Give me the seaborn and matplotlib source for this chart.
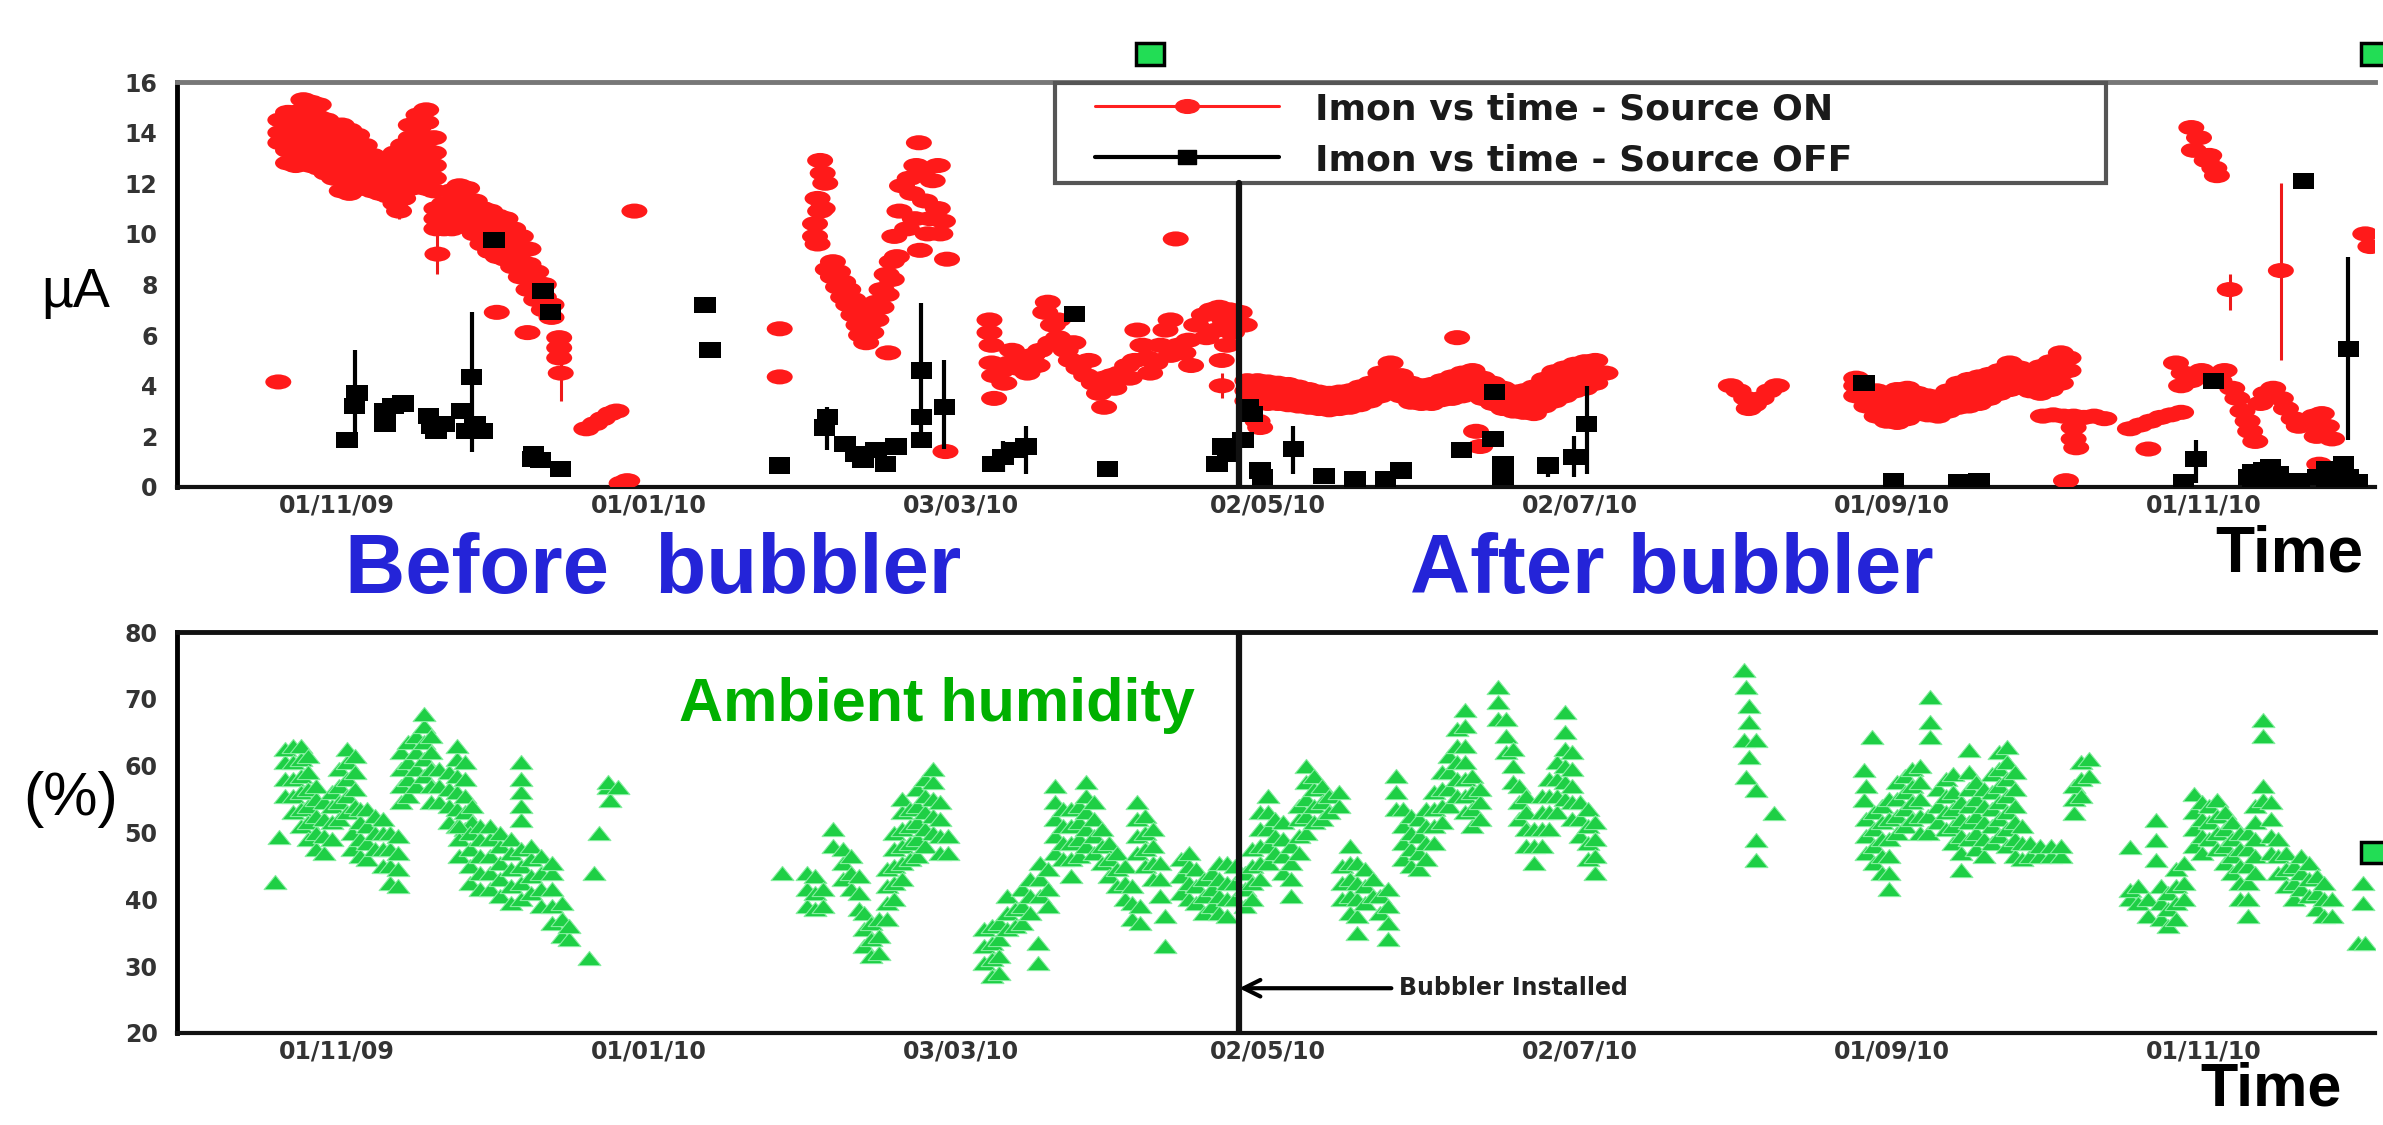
"""
plot.py - Imon vs time (source ON / OFF) and ambient humidity, before/after bubbler.
"""
import numpy as np
import pandas as pd
import matplotlib
matplotlib.use("Agg")
import matplotlib.pyplot as plt
import matplotlib.dates as mdates
from matplotlib.path import Path
from matplotlib.lines import Line2D
from matplotlib.patches import Rectangle
from matplotlib.ticker import FixedLocator, MultipleLocator
import seaborn as sns

START = pd.Timestamp("2009-11-01")
BUBBLER_DAY = 176.4

# (days since 01/11/09, [readings]) -- Imon, source ON
on_cols = [
    (-11.4, [4.15]), (-11, [13.6, 14.0, 14.5]), (-9.5, [12.8, 13.3, 13.8, 14.3, 14.8]),
    (-8, [12.7, 13.2, 13.7, 14.2, 14.8]), (-6.5, [12.9, 13.4, 13.9, 14.4, 14.9, 15.3]),
    (-5, [12.7, 13.2, 13.7, 14.2, 14.7, 15.2]), (-3.5, [12.6, 13.1, 13.6, 14.1, 14.6, 15.1]),
    (-2, [12.4, 12.9, 13.4, 13.9, 14.5]), (-0.5, [12.2, 12.7, 13.2, 13.7, 14.3]),
    (1, [11.7, 12.2, 12.7, 13.2, 13.8, 14.3]), (2.5, [11.6, 12.1, 12.6, 13.1, 13.6, 14.1]),
    (4, [11.8, 12.3, 12.8, 13.3, 13.9]), (5.5, [11.8, 12.3, 12.8, 13.5]),
    (7, [11.7, 12.2, 12.7, 13.1]), (8.5, [11.6, 12.1, 12.6]), (10, [11.5, 12.0, 12.5, 12.8]),
    (11.5, [11.2, 11.7, 12.2, 12.7, 13.2]), (12.2, [10.9]), (13, [11.4, 11.9, 12.4, 12.9, 13.5]),
    (14.5, [11.8, 12.3, 12.8, 13.3, 13.8, 14.3]), (16, [12.2, 12.7, 13.2, 13.7, 14.2, 14.7]),
    (17.5, [11.8, 12.3, 12.8, 13.3, 13.8, 14.4, 14.9]), (19, [11.7, 12.2, 12.7, 13.2, 13.8]),
    (19.7, [9.2]), (19.5, [10.2, 10.6, 11.0]), (21, [10.2, 10.7, 11.2]),
    (22.5, [10.2, 10.7, 11.2, 11.7]), (24, [10.3, 10.8, 11.3, 11.9]), (25.5, [10.3, 10.8, 11.3, 11.8]),
    (27, [10.0, 10.5, 11.0, 11.3]), (28.5, [9.6, 10.1, 10.6, 11.0]), (30, [9.3, 9.8, 10.3, 10.9]),
    (31.3, [6.9]), (31.5, [9.1, 9.6, 10.1, 10.7]), (33, [9.0, 9.5, 10.0, 10.6]),
    (34.5, [8.7, 9.2, 9.7, 10.2]), (36, [8.3, 8.8, 9.3, 9.9]), (37.3, [6.1]),
    (37.5, [7.8, 8.3, 8.8, 9.4]), (39, [7.4, 7.9, 8.5]), (40.5, [7.0, 7.5, 8.0]), (42, [6.7, 7.2]),
    (43.5, [5.1, 5.5, 5.9]), (43.8, [4.5]), (48.8, [2.3]), (50.5, [2.5]), (52, [2.7]),
    (53.5, [2.9]), (54.7, [3.0]), (55.7, [0.15]), (56.8, [0.25]), (58.2, [10.9]), (86.6, [4.35, 6.25]),
    (93.5, [9.9, 10.4]), (94, [9.6, 11.4]), (94.5, [10.9, 12.9]), (95, [12.4, 11.0]), (95.5, [12.0]),
    (96, [8.6]), (97, [8.3, 8.9]), (98, [7.9, 8.5]), (99, [7.5, 8.1]), (100, [7.2, 7.8]),
    (101, [6.8, 7.4]), (102, [6.4, 7.0]), (102.5, [6.0]), (103.5, [5.7, 6.3]), (104.5, [6.1, 6.7]),
    (105.5, [6.6, 7.3]), (106.5, [7.1, 7.8]), (107.5, [7.6, 8.4]), (107.8, [5.3]), (108.5, [8.2, 8.9]),
    (109, [9.9]), (109.5, [9.1]), (110, [10.9]), (110.5, [11.9]), (111.5, [10.2]), (112, [12.2]),
    (112.5, [11.6]), (113, [10.6]), (113.3, [12.7]), (113.8, [13.6]), (114, [9.35]), (114.5, [12.4]),
    (115, [11.3]), (115.5, [10.0]), (116, [10.6]), (116.5, [12.1]), (117.5, [11.0, 12.7]),
    (118, [10.0]), (118.5, [10.5]), (119, [1.4]), (119.3, [9.0]),
    (127.6, [6.1, 6.6]), (128, [4.9, 5.6]), (128.5, [3.5, 4.4]), (130, [4.6]), (130.5, [4.1]),
    (131.5, [4.9]), (132, [5.4]), (133, [4.7]), (134.5, [5.0]), (135, [4.5]), (136, [5.2]),
    (137, [4.8]), (137.5, [5.4]), (138.5, [6.9]), (139, [7.3]), (139.5, [5.7]), (140, [6.4]),
    (141, [5.9, 6.6]), (142.5, [5.4]), (143.5, [5.0]), (144, [5.7]), (145, [4.7]), (146.5, [4.4]),
    (147, [5.0]), (148, [4.1]), (149, [3.7]), (150, [3.15, 4.3]), (151.5, [4.4]), (152, [3.9]),
    (153, [4.5]), (154.5, [4.8]), (155, [4.3]), (156, [5.0]), (156.5, [6.2]), (157.5, [5.6]),
    (158.5, [5.1]), (159, [4.5]), (160, [4.9]), (161, [5.6]), (162, [6.2]), (163, [5.2, 6.6]),
    (164, [9.8]), (164.5, [5.6]), (165.5, [5.3]), (166.5, [5.8]), (167, [4.8]), (168, [6.4]),
    (169.5, [6.8]), (170, [5.9]), (171, [7.0]), (172, [6.2]), (172.5, [7.1]), (173, [4.0, 5.0]),
    (173.5, [6.6]), (174, [5.6]), (174.5, [7.0]), (175, [6.1]), (176.5, [6.9]), (177.5, [6.4]),
    (178, [3.4, 3.8, 4.2]), (180, [3.35, 3.75, 4.2, 2.6]), (180.5, [2.35]), (182, [3.3, 3.7, 4.15]),
    (184, [3.3, 3.7, 4.1]), (186, [3.25, 3.65, 4.05]), (188, [3.2, 3.6, 3.95]),
    (190, [3.15, 3.5, 3.85]), (192, [3.1, 3.45, 3.75]), (194, [3.05, 3.4, 3.7]),
    (196, [3.1, 3.45, 3.75]), (198, [3.15, 3.5, 3.8]), (200, [3.25, 3.6, 3.95]),
    (202, [3.4, 3.75, 4.1]), (204, [3.6, 4.0, 4.5]), (206, [3.8, 4.3, 4.9]), (208, [3.6, 4.0, 4.4]),
    (210, [3.35, 3.7, 4.1]), (212, [3.3, 3.65, 4.0]), (214, [3.3, 3.7, 4.05]),
    (216, [3.45, 3.85, 4.2]), (218, [3.5, 3.9, 4.35]), (219, [5.9]), (220, [3.6, 4.05, 4.5]),
    (222, [3.7, 4.15, 4.6]), (222.7, [2.2]), (223.5, [1.6]), (224, [3.5, 3.9, 4.3]),
    (226, [3.3, 3.7, 4.1]), (228, [3.1, 3.5, 3.9]), (230, [3.0, 3.4, 3.75]), (232, [2.95, 3.35, 3.8]),
    (234, [2.9, 3.4, 3.95]), (236, [3.2, 3.7, 4.25]), (238, [3.4, 3.9, 4.55]), (240, [3.6, 4.1, 4.7]),
    (242, [3.8, 4.3, 4.85]), (244, [3.9, 4.4, 4.95]), (246, [4.1, 4.5, 5.0]), (248, [4.5]),
    (272.5, [4.0]), (274, [3.8]), (275.5, [3.5]), (276, [3.1]), (277, [3.25]), (278.5, [3.5]),
    (280, [3.8]), (281.5, [4.0]),
    (297, [3.6, 4.0, 4.3]), (299, [3.2, 3.55, 3.85]), (301, [2.8, 3.2, 3.6, 3.8]),
    (303, [2.6, 3.0, 3.4, 3.7]), (305, [2.55, 2.95, 3.4, 3.85]), (307, [2.7, 3.1, 3.5, 3.9]),
    (309, [2.9, 3.3, 3.7]), (311, [2.85, 3.2, 3.6]), (313, [2.8, 3.2, 3.55]), (315, [3.0, 3.4, 3.8]),
    (317, [3.15, 3.6, 4.1]), (319, [3.2, 3.7, 4.25]), (321, [3.3, 3.8, 4.35]), (323, [3.5, 4.0, 4.45]),
    (325, [3.7, 4.15, 4.6]), (327, [3.85, 4.35, 4.9]), (329, [3.95, 4.3, 4.7]), (331, [3.8, 4.2, 4.6]),
    (333, [3.7, 4.2, 4.75]), (335, [3.85, 4.35, 4.95]), (337, [4.1, 4.7, 5.3]), (338.5, [4.6, 5.1]),
    (333.5, [2.8]), (335.5, [2.85]), (337.5, [2.8]), (339.5, [2.8, 2.35, 1.9]), (340, [1.55]),
    (341.5, [2.75]), (343.5, [2.8]), (345.5, [2.7]), (338, [0.25]),
    (350.5, [2.3]), (352.5, [2.45]), (354.5, [2.6]), (356.5, [2.75]), (358.5, [2.85]),
    (360.5, [2.95, 4.0]), (354.1, [1.5]),
    (362.5, [14.2, 4.2]), (363, [13.3]), (364, [13.8]), (365.5, [12.9]), (366, [13.1, 4.35]),
    (367, [12.6]), (367.5, [12.3]), (370, [7.8]), (380, [8.55, 3.5]),
    (359.5, [4.9]), (361, [4.5]), (364.5, [4.6]), (368, [4.2]), (369, [4.6]), (370.5, [3.9]),
    (371.5, [3.5]), (372.5, [3.0]), (373.5, [2.6]), (374, [2.2]), (375, [1.8]), (376, [3.3]),
    (377, [3.7]), (378.5, [3.9]), (381, [3.1]), (382.5, [2.7]), (383.5, [2.4]), (385, [2.5]),
    (386.5, [2.8]), (387, [2.0]), (388, [2.9]), (389, [2.4]), (390, [1.9]), (387.5, [0.9]),
    (396.5, [10.0]), (397.5, [9.5]),
]

# Imon, source OFF
off_cols = [
    (2, [1.85]), (3.5, [3.2]), (4, [3.7]), (9.5, [2.5, 3.0]), (11, [3.2]), (13, [3.3]),
    (18, [2.8]), (18.5, [2.4]), (19.4, [2.2]), (21, [2.5]), (24.4, [3.0]), (25.5, [2.2]),
    (26.4, [4.35]), (27, [2.5]), (28.5, [2.2]), (30.8, [9.75]), (38.3, [1.1]), (38.5, [1.3]),
    (39.8, [1.05]), (40.3, [7.75]), (41.8, [6.9]), (43.8, [0.72]), (72, [7.2]), (73, [5.4]),
    (86.6, [0.85]), (95.4, [2.35]), (95.9, [2.75]), (99.4, [1.7]), (101.4, [1.3]), (102.9, [1.05]),
    (105.4, [1.45]), (107.3, [0.9]), (109.3, [1.6]), (114.3, [1.85, 2.75, 4.6]), (118.8, [3.15]),
    (128.2, [0.9]), (130.2, [1.2]), (132.2, [1.45]), (134.7, [1.6]), (144.2, [6.85]), (150.7, [0.72]),
    (172.1, [0.9]), (173.1, [1.6]), (174.1, [1.3]), (177.1, [1.85]), (178.1, [3.15]), (179, [2.9]),
    (180.5, [0.65]), (181, [0.4]), (187, [1.5]), (193, [0.45]), (199, [0.33]), (205, [0.33]),
    (208, [0.65]), (219.9, [1.45]), (226, [1.9]), (226.3, [3.75]), (228, [0.4, 0.9]),
    (236.8, [0.85]), (241.8, [1.2]), (244.3, [2.5]), (298.5, [4.1]), (304.3, [0.25]), (317, [0.2]),
    (321, [0.25]), (361, [0.2]), (363.4, [1.1]), (366.8, [4.2]), (373.7, [0.4]), (374.5, [0.2, 0.6]),
    (376.7, [0.65]), (378, [0.3, 0.8]), (379.5, [0.5]), (381, [0.2]), (383.5, [0.25]),
    (384.4, [12.1]), (387.3, [0.4]), (389, [0.3, 0.7]), (391, [0.2]), (392.2, [0.9]),
    (393.2, [0.4, 5.45]), (395, [0.2]),
]

# visible error bars: day, low, high
on_err_days = [12.2, 19.7, 43.8, 173, 370, 380]
on_err_lo = [10.6, 8.4, 3.4, 3.5, 7.0, 5.0]
on_err_hi = [11.7, 10.0, 5.8, 4.5, 8.4, 12.0]
off_err_days = [3.5, 26.4, 95.9, 114.3, 118.8, 130.2, 134.7, 187, 236.8, 241.8, 244.3, 363.4, 393.2]
off_err_lo = [1.8, 1.4, 1.45, 1.85, 1.5, 0.6, 0.5, 0.5, 0.4, 0.4, 0.5, 0.15, 1.85]
off_err_hi = [5.4, 6.9, 3.15, 7.25, 5.0, 1.8, 2.4, 2.4, 1.2, 2.0, 4.0, 1.85, 9.1]

# ambient humidity (%)
humid_cols = [
    (-12, [42.6]), (-11.2, [49.4]), (-10, [55.5, 58, 60.5, 62.5]), (-8.5, [53, 55.5, 58, 60.5, 63]),
    (-7, [51, 53.5, 56, 58.5, 61, 63]), (-5.5, [49, 51.5, 54, 56.5, 59, 61.5]),
    (-4, [47.5, 50, 52.5, 55, 57]), (-2.5, [47, 49.5, 52, 54.5]), (-1, [49, 51.5, 54, 56]),
    (0.5, [52, 54.5, 57, 59.5]), (2, [53, 55.5, 58, 60.5, 62.5]), (3.5, [54, 56.5, 59, 61.5]),
    (3, [47.5, 50]), (4.5, [46.5, 49, 51.5, 53.5]), (6, [46, 48.5, 51, 53.5]), (7.5, [47.5, 50, 52.5]),
    (9, [45, 47.5, 50, 52]), (10.5, [42.5, 45, 47.5, 50]), (12, [42, 44.5, 47, 49.5]),
    (12.5, [54.5, 57, 59.5, 62]), (14, [55.5, 58, 60.5, 63.5]), (15.5, [57, 59.5, 62, 64.5]),
    (17, [58.5, 61, 63.5, 66, 67.8]), (18.5, [54.5, 57, 59.5, 62, 64.5]), (20, [54.5, 57, 59.5]),
    (22, [51.5, 54, 56.5, 59]), (23.5, [51, 53.5, 56, 58.5, 61, 63]), (25, [50.5, 53, 55.5, 58, 60.5]),
    (26.5, [51.5, 54]), (24, [46.5, 49, 51]), (26, [42.5, 45, 47.5, 50]), (28, [41.5, 44, 46.5, 49, 51]),
    (30, [41.5, 44, 46.5, 49, 51]), (32, [40.5, 43, 45.5, 48, 50]), (34, [39.5, 42, 44.5, 47, 49]),
    (36, [40, 42.5, 45, 47.5, 51.9, 54, 56, 58, 60.5]), (38, [41, 43.5, 46, 48]),
    (40, [39, 41.5, 44, 46.5]), (42, [36.5, 39, 41.5, 44, 45.5]), (44, [34.5, 37, 39.5]),
    (45.5, [34, 36]), (49.3, [31.2]), (50.3, [43.9]), (51.3, [49.9]), (53, [56.8, 57.5]),
    (53.5, [54.8]), (55, [56.8]), (87, [43.9]),
    (92, [39, 41.5, 44]), (93.5, [38.5, 41, 43.5]), (95, [39, 41.5]), (97, [48, 50.5]),
    (99, [43, 45.5, 47.5]), (100.5, [41.5, 44, 46.5]), (102, [38.5, 41, 43.5]),
    (103, [33, 35.5, 38]), (104.5, [31.5, 34, 36.5]), (106, [32, 34.5, 37]),
    (107.5, [37, 39.5, 42, 44.5]), (109, [40, 42.5, 45, 47.5, 50]), (110.5, [43, 45.5, 48, 50.5, 53, 55]),
    (112, [46, 48.5, 51, 53.5]), (113.5, [46.5, 49, 51.5, 54, 56.5]), (115, [48, 50.5, 53, 55.5, 58]),
    (116.5, [50, 52.5, 55, 57.5, 59.5]), (118, [47, 49.5, 52, 54.5]), (119.5, [47, 49.5]),
    (126.5, [30.5, 33, 35.5]), (128, [28.5, 31, 33.5, 36]), (129.5, [29, 31.5, 34, 36.5]),
    (131, [35.5, 38, 40.5]), (132.5, [36, 38.5]), (134, [36.5, 39, 41.5]), (135.5, [38, 40.5, 43]),
    (137, [30.5, 33.5]), (137.5, [40.5, 43, 45.5]), (139, [39, 41.5, 44.5]),
    (140.5, [47, 49.5, 52, 54.5, 57]), (142, [46, 48.5, 51, 53.5]), (143.5, [43.5, 46, 48.5, 51, 53.5]),
    (145, [46.5, 49, 51.5, 54]), (146.5, [48, 50.5, 53, 55.5, 57.5]), (148, [47, 49.5, 52, 54.5]),
    (149.5, [45.5, 48, 50.5]), (151, [43.5, 46, 48.5]), (152.5, [42, 44.5, 47]), (154, [40, 42.5, 45]),
    (155.5, [37, 39.5, 42]), (157, [36.5, 39]), (156.5, [47, 49.5, 52, 54.5]), (158, [45, 47.5, 50, 52.5]),
    (159.5, [43, 45.5, 48, 50.5]), (161, [40.5, 43, 45.5]), (162, [37.5, 33]),
    (165, [41, 43.5, 46]), (166.5, [40, 42.5, 45, 47]), (168, [39.5, 42, 44.5]), (169.5, [38, 40.5, 43]),
    (171, [39, 41.5, 44]), (172.5, [38, 40.5, 43, 45.5]), (174, [37.5, 40, 42.5, 45.5]), (175.5, [40, 42.5, 45]),
    (177.5, [39, 41.5, 44]), (179, [40, 42.5, 45, 47.5]), (180.5, [43, 45.5, 48, 50.5, 53]),
    (182, [45.5, 48, 50.5, 53, 55.5]), (183.5, [47, 49.5, 52]), (185, [44, 46.5, 49, 51.5]),
    (186.5, [40.5, 43, 45.5, 48]), (188, [47, 49.5, 52, 54]), (189.5, [50, 52.5, 55, 57.5, 60]),
    (191, [51.5, 54, 56.5, 58.5]), (192.5, [52, 54.5, 57]), (194, [53, 55.5]), (196, [54, 56]),
    (196.5, [40, 42.5, 45]), (198, [38, 40.5, 43, 45.5, 48]), (199.5, [35, 37.5, 40, 42.5, 45.5]),
    (201, [39.5, 42, 44.5]), (202.5, [40.5, 43]), (204, [38, 40.5]), (205.5, [34, 36.5, 39, 41.5]),
    (207, [53.5, 56, 58.5]), (208.5, [46, 48.5, 51, 53.5]), (210, [45, 47.5, 50, 52.5]),
    (211.5, [44.5, 47, 49.5, 52]), (213, [46, 48.5, 51, 53.5]), (214.5, [48.5, 51, 53.5, 56]),
    (216, [51.5, 54, 56.5, 59]), (217.5, [54, 56.5, 59, 61.5]), (219, [55.5, 58, 60.5, 63, 65.5]),
    (220.5, [53, 55.5, 58, 60.5, 63, 66, 68.3]), (222, [51, 53.5, 56, 58.5]), (223.5, [52, 54.5, 56.5]),
    (227, [67, 69.5, 71.8]), (228.5, [62, 64.5, 67]), (230, [57.5, 60, 62.5]),
    (231, [52, 54.5, 57]), (232.5, [48, 50.5, 53, 55.5]), (234, [45.5, 48, 50.5]),
    (235.5, [48, 50.5, 53, 55.5]), (237, [50.5, 53, 55.5, 58]), (238.5, [53, 55.5, 58, 60.5]),
    (240, [55, 57.5, 60, 62.5, 65, 68]), (241.5, [52, 54.5, 57, 59.5, 62]), (243, [49.5, 52, 54.5]),
    (244.5, [46, 48.5, 51, 53.5]), (246, [44, 46.5, 49, 51.5]),
    (275, [63.8, 74.3]), (275.5, [58.3, 71.8]), (276, [61.3, 66.5, 69]), (277.5, [45.9, 48.9, 56.3, 63.8]),
    (281, [52.9]), (298.5, [54.9, 59.3]), (299, [57, 47, 49.5, 52]), (300, [64.3]),
    (300.5, [45.5, 48, 50.5, 53]), (302, [44, 46.5, 49, 51.5, 54]), (303.5, [41.5, 44, 46.5, 49, 52, 55]),
    (305, [50, 52.5, 55, 57.5]), (306.5, [51, 53.5, 56, 58.5]), (308, [52, 54.5, 57, 59.5]),
    (309.5, [50, 52.5, 55, 57.5, 60]), (311, [49.9, 52.5]), (311.5, [64.3, 66.5, 70.3]),
    (313, [51.5, 54, 56.5]), (314.5, [50.5, 53, 55.5, 58]), (316, [48.5, 51, 53.5, 56, 58.8]),
    (317.5, [44.4, 47, 49.5, 52, 54.5]), (319, [49, 51.5, 54, 56.5, 59, 62.3]),
    (320.5, [47.5, 50, 52.5, 55, 57.5]), (322, [46.5, 49, 51.5, 54, 56.5]),
    (323.5, [48.5, 51, 53.5, 56, 58.8]), (325, [49.5, 52, 54.5, 57, 59.5, 62]),
    (326.5, [48, 50.5, 53, 55.5, 58, 60.5, 62.8]), (328, [46.5, 49, 51.5, 54, 56.5, 59]),
    (329.5, [46, 48.5, 51]), (331, [46.5, 48.5]), (333, [46.5, 48]), (335, [46.5, 48]), (337, [46.5, 48]),
    (339.5, [52.9, 55, 57]), (341, [55.5, 58, 60.5]), (342.5, [58.5, 61]),
    (350.5, [40, 41.4, 47.9]), (352, [39.5, 42]), (354, [37.5, 40]), (355.5, [45.9, 48.9, 51.9]),
    (356.5, [37, 39.5, 42]), (358, [36, 38.5, 41]), (359.5, [37, 39.5, 42, 44.5]), (361, [40, 42.5, 45.5]),
    (363, [48, 50.5, 53, 55.8]), (364.5, [47, 49.5, 52, 54.5]), (366, [49, 51.5, 54]),
    (367.5, [47.5, 50, 52.5, 54.9]), (369, [45.5, 48, 50.5, 53]), (370.5, [44, 46.5, 49, 51.5]),
    (372, [40, 42.5, 45, 47.5, 50]), (373.5, [37.5, 40, 42.5, 45, 47.5, 50]), (375, [44, 46.5, 49, 51.5, 54]),
    (376.5, [54.9, 57, 64.5, 66.8]), (378, [47, 49.5, 52, 54.5]), (379.5, [44, 46.5, 49]),
    (381, [42, 44.5, 47]), (382.5, [40, 42.5, 45]), (384, [41.5, 44, 46.5]), (385.5, [40.5, 43, 45.5]),
    (387, [38.5, 41, 43.5]), (388.5, [37.5, 40, 42.5]), (390, [37.5, 40]),
    (395, [33.4]), (396, [39.4, 42.4]), (396.5, [33.4]),
]

tick_dates = ["2009-11-01", "2010-01-01", "2010-03-03", "2010-05-02",
              "2010-07-02", "2010-09-01", "2010-11-01"]
x_range_days = (-31.2, 398.4)


def to_num(days):
    return mdates.date2num(START + pd.to_timedelta(np.atleast_1d(days), unit="D"))


def flatten(cols):
    days = [d for d, vs in cols for _ in vs]
    vals = [v for _, vs in cols for v in vs]
    return pd.DataFrame({"time": START + pd.to_timedelta(days, unit="D"), "value": vals})


# stretched ROOT markers (the original is squashed vertically)
circ = Path.unit_circle()
ELLIPSE = Path(circ.vertices * [1.0, 0.58], circ.codes)
RECT = Path([[-1, -0.75], [1, -0.75], [1, 0.75], [-1, 0.75], [-1, -0.75]],
            [Path.MOVETO, Path.LINETO, Path.LINETO, Path.LINETO, Path.CLOSEPOLY])
TRI = Path([[-1, -0.62], [1, -0.62], [0, 0.62], [-1, -0.62]],
           [Path.MOVETO, Path.LINETO, Path.LINETO, Path.CLOSEPOLY])

sns.set_style("white")
plt.rcParams["font.family"] = ["DejaVu Sans"]
plt.rcParams["font.weight"] = "bold"

W, H = 2383, 1125
fig = plt.figure(figsize=(W / 100, H / 100), dpi=100)


def px_box(x0, y0, x1, y1):
    return [x0 / W, 1 - y1 / H, (x1 - x0) / W, (y1 - y0) / H]


ax_top = fig.add_axes(px_box(177, 82, 2375, 487))
ax_bot = fig.add_axes(px_box(177, 632, 2375, 1033))

# --- top: Imon
on = flatten(on_cols)
off = flatten(off_cols)
ax_top.vlines(to_num(on_err_days), on_err_lo, on_err_hi, color="#ee1a1a", lw=2.2, zorder=3)
sns.scatterplot(data=on, x="time", y="value", ax=ax_top, marker=ELLIPSE, s=350,
                color="#ff1a1a", linewidth=0, edgecolor="none", legend=False, zorder=3)
ax_top.vlines(to_num(off_err_days), off_err_lo, off_err_hi, color="black", lw=3, zorder=4)
sns.scatterplot(data=off, x="time", y="value", ax=ax_top, marker=RECT, s=240,
                color="black", linewidth=0, edgecolor="none", legend=False, zorder=4)
ax_top.set_ylim(0, 16)
ax_top.yaxis.set_major_locator(MultipleLocator(2))
ax_top.yaxis.set_minor_locator(MultipleLocator(0.5))

# legend: frame drawn as a box, entries placed inside it
ax_top.add_patch(Rectangle((0.3995, 0.7506), 0.4781, 0.247, transform=ax_top.transAxes,
                           facecolor="white", edgecolor="#555555", lw=3, zorder=5, clip_on=False))
handles = [
    Line2D([], [], color="#ff2020", lw=2.2, marker=ELLIPSE, ms=17,
           label="Imon vs time - Source ON"),
    Line2D([], [], color="black", lw=3, marker=RECT, ms=13,
           label="Imon vs time - Source OFF"),
]
leg = ax_top.legend(handles=handles, loc="upper left", bbox_to_anchor=(0.4177, 0.975),
                    borderaxespad=0, borderpad=0, labelspacing=0.47,
                    handlelength=5.1, handletextpad=1.0, frameon=False,
                    prop={"family": "DejaVu Sans", "size": 26, "weight": "bold"},
                    labelcolor="#1a1a1a")
leg.set_zorder(6)
ax_top.axvline(to_num(BUBBLER_DAY)[0], ymin=0, ymax=0.75, color="#111111", lw=4.5, zorder=5)

# --- bottom: humidity
humid = flatten(humid_cols)
sns.scatterplot(data=humid, x="time", y="value", ax=ax_bot, marker=TRI, s=270,
                color="#1ecf45", linewidth=0.8, edgecolor="#86eea0", legend=False, zorder=3)
ax_bot.set_ylim(20, 80)
ax_bot.yaxis.set_major_locator(MultipleLocator(10))
ax_bot.yaxis.set_minor_locator(MultipleLocator(2))
ax_bot.axvline(to_num(BUBBLER_DAY)[0], color="#111111", lw=4.5, zorder=5)
ax_bot.annotate("Bubbler Installed", xy=(to_num(BUBBLER_DAY)[0], 26.7),
                xytext=(to_num(207.6)[0], 26.7), ha="left", va="center",
                fontsize=17, fontweight="bold", color="#222222",
                arrowprops=dict(arrowstyle="->,head_length=0.7,head_width=0.35",
                                lw=3, color="black", shrinkA=3, shrinkB=0))

# --- shared axis styling (ROOT look)
tick_nums = mdates.date2num(pd.to_datetime(tick_dates))
step = (tick_nums[1] - tick_nums[0]) / 4
minor = [tick_nums[0] - 2 * step, tick_nums[0] - step]
for a, b in zip(tick_nums[:-1], tick_nums[1:]):
    minor += list(np.linspace(a, b, 5)[1:-1])
minor += [tick_nums[-1] + step, tick_nums[-1] + 2 * step]

for ax in (ax_top, ax_bot):
    ax.set_xlim(*to_num(list(x_range_days)))
    ax.xaxis.set_major_locator(FixedLocator(tick_nums))
    ax.xaxis.set_minor_locator(FixedLocator(minor))
    ax.xaxis.set_major_formatter(mdates.DateFormatter("%d/%m/%y"))
    ax.set_xlabel("")
    ax.set_ylabel("")
    ax.tick_params(axis="y", which="major", direction="in", length=59, width=2.4,
                   color="#222222", pad=14, labelsize=17, labelcolor="#333333")
    ax.tick_params(axis="y", which="minor", direction="in", length=30, width=2.4, color="#222222")
    ax.tick_params(axis="x", which="major", direction="in", length=8, width=2.2,
                   color="#222222", pad=5, labelsize=17, labelcolor="#333333")
    ax.tick_params(axis="x", which="minor", direction="in", length=4, width=2.2, color="#222222")
    ax.tick_params(top=False, right=False)
    ax.spines["right"].set_visible(False)
    ax.spines["left"].set_linewidth(3.5)
    ax.spines["left"].set_color("black")
    ax.spines["bottom"].set_linewidth(3)
    ax.spines["bottom"].set_color("#111111")
    ax.spines["top"].set_linewidth(3.5)
ax_top.spines["top"].set_color("#777777")
ax_bot.spines["top"].set_color("#111111")

# --- slide annotations
fig.text(76 / W, 1 - 307 / H, "µA", ha="center", va="baseline", fontsize=40,
         family="Liberation Sans", fontweight="normal", color="black")
fig.text(23 / W, 1 - 799 / H, "(%)", ha="left", va="center", fontsize=44,
         family="Liberation Sans", fontweight="normal", color="black")
fig.text(345 / W, 1 - 593 / H, "Before  bubbler", va="baseline", fontsize=60,
         family="Liberation Sans", fontweight="bold", color="#2424d8")
fig.text(1410 / W, 1 - 593 / H, "After bubbler", va="baseline", fontsize=60,
         family="Liberation Sans", fontweight="bold", color="#2424d8")
fig.text(2215 / W, 1 - 572 / H, "Time", va="baseline", fontsize=46,
         family="Liberation Sans", fontweight="bold", color="black")
fig.text(2200 / W, 1 - 1106 / H, "Time", va="baseline", fontsize=44,
         family="Liberation Sans", fontweight="bold", color="black")
fig.text(679 / W, 1 - 721 / H, "Ambient humidity", va="baseline", fontsize=44,
         family="Liberation Sans", fontweight="bold", color="#00b000")

for x0, y0, x1, y1 in [(1136, 43, 1164, 65), (2361, 43, 2392, 65), (2361, 842, 2392, 863)]:
    fig.add_artist(Rectangle((x0 / W, 1 - y1 / H), (x1 - x0) / W, (y1 - y0) / H,
                             transform=fig.transFigure, facecolor="#22dd55",
                             edgecolor="black", lw=2.5))

fig.savefig("out.png", dpi=100)
